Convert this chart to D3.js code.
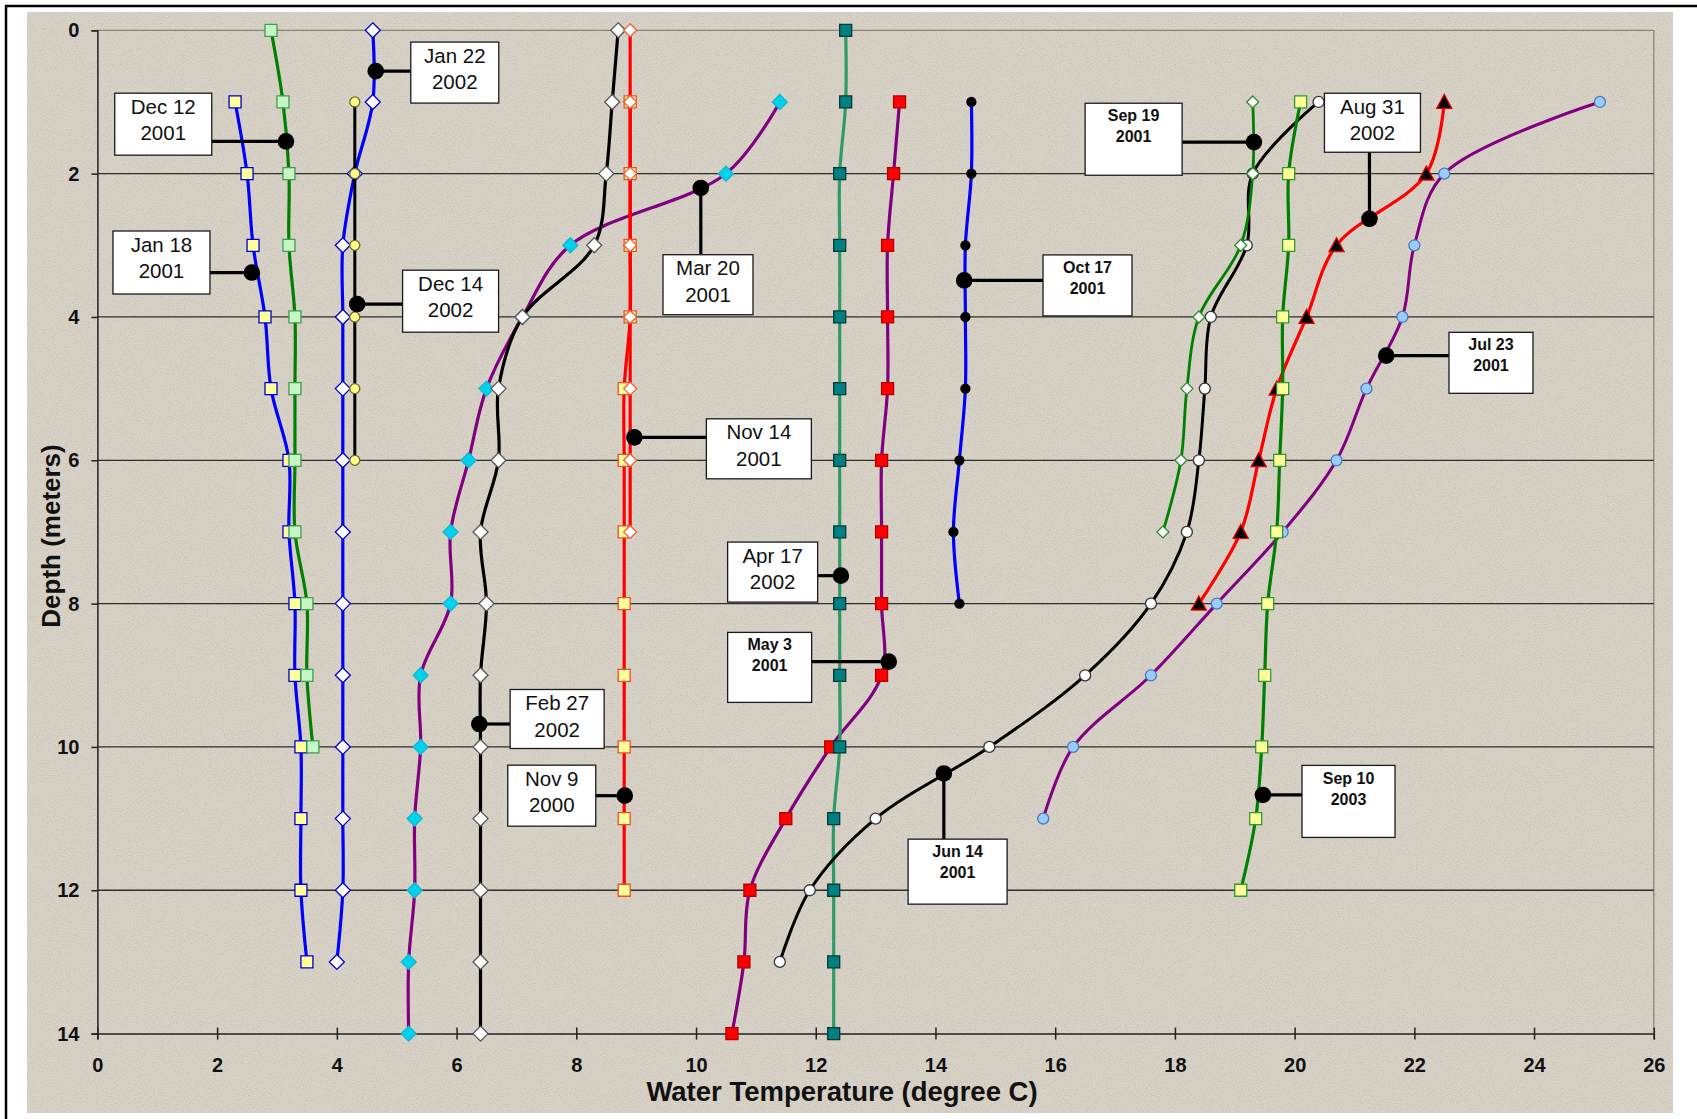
<!DOCTYPE html>
<html>
<head>
<meta charset="utf-8">
<script src="https://cdn.jsdelivr.net/npm/d3@7"></script>
<style>
  html, body { margin: 0; padding: 0; background: #ffffff; }
  svg { display: block; }
</style>
</head>
<body>
<svg id="chart" width="1697" height="1119"></svg>
<script>
// ---- Temperature profiles: depth (m) and water temperature (°C) ----
const depthsJan18_2001 = [1, 2, 3, 4, 5, 6, 7, 8, 9, 10, 11, 12, 13];
const tempsJan18_2001  = [2.3, 2.5, 2.6, 2.8, 2.9, 3.2, 3.2, 3.3, 3.3, 3.4, 3.4, 3.4, 3.5];

const depthsDec12_2001 = [0, 1, 2, 3, 4, 5, 6, 7, 8, 9, 10];
const tempsDec12_2001  = [2.9, 3.1, 3.2, 3.2, 3.3, 3.3, 3.3, 3.3, 3.5, 3.5, 3.6];

const depthsJan22_2002 = [0, 1, 2, 3, 4, 5, 6, 7, 8, 9, 10, 11, 12, 13];
const tempsJan22_2002  = [4.6, 4.6, 4.3, 4.1, 4.1, 4.1, 4.1, 4.1, 4.1, 4.1, 4.1, 4.1, 4.1, 4.0];

const depthsDec14_2002 = [1, 2, 3, 4, 5, 6];
const tempsDec14_2002  = [4.3, 4.3, 4.3, 4.3, 4.3, 4.3];

const depthsMar20_2001 = [1, 2, 3, 4, 5, 6, 7, 8, 9, 10, 11, 12, 13, 14];
const tempsMar20_2001  = [11.4, 10.5, 7.9, 7.1, 6.5, 6.2, 5.9, 5.9, 5.4, 5.4, 5.3, 5.3, 5.2, 5.2];

const depthsFeb27_2002 = [0, 1, 2, 3, 4, 5, 6, 7, 8, 9, 10, 11, 12, 13, 14];
const tempsFeb27_2002  = [8.7, 8.6, 8.5, 8.3, 7.1, 6.7, 6.7, 6.4, 6.5, 6.4, 6.4, 6.4, 6.4, 6.4, 6.4];

const depthsNov9_2000 = [1, 2, 3, 4, 5, 6, 7, 8, 9, 10, 11, 12];
const tempsNov9_2000  = [8.9, 8.9, 8.9, 8.9, 8.8, 8.8, 8.8, 8.8, 8.8, 8.8, 8.8, 8.8];

const depthsNov14_2001 = [0, 1, 2, 3, 4, 5, 6, 7];
const tempsNov14_2001  = [8.9, 8.9, 8.9, 8.9, 8.9, 8.9, 8.9, 8.9];

const depthsMay3_2001 = [1, 2, 3, 4, 5, 6, 7, 8, 9, 10, 11, 12, 13, 14];
const tempsMay3_2001  = [13.4, 13.3, 13.2, 13.2, 13.2, 13.1, 13.1, 13.1, 13.1, 12.25, 11.5, 10.9, 10.8, 10.6];

const depthsApr17_2002 = [0, 1, 2, 3, 4, 5, 6, 7, 8, 9, 10, 11, 12, 13, 14];
const tempsApr17_2002  = [12.5, 12.5, 12.4, 12.4, 12.4, 12.4, 12.4, 12.4, 12.4, 12.4, 12.4, 12.3, 12.3, 12.3, 12.3];

const depthsOct17_2001 = [1, 2, 3, 4, 5, 6, 7, 8];
const tempsOct17_2001  = [14.6, 14.6, 14.5, 14.5, 14.5, 14.4, 14.3, 14.4];

const depthsJun14_2001 = [1, 2, 3, 4, 5, 6, 7, 8, 9, 10, 11, 12, 13];
const tempsJun14_2001  = [20.4, 19.3, 19.2, 18.6, 18.5, 18.4, 18.2, 17.6, 16.5, 14.9, 13.0, 11.9, 11.4];

const depthsSep19_2001 = [1, 2, 3, 4, 5, 6, 7];
const tempsSep19_2001  = [19.3, 19.3, 19.1, 18.4, 18.2, 18.1, 17.8];

const depthsJul23_2001 = [1, 2, 3, 4, 5, 6, 7, 8, 9, 10, 11];
const tempsJul23_2001  = [25.1, 22.5, 22.0, 21.8, 21.2, 20.7, 19.8, 18.7, 17.6, 16.3, 15.8];

const depthsAug31_2002 = [1, 2, 3, 4, 5, 6, 7, 8];
const tempsAug31_2002  = [22.5, 22.2, 20.7, 20.2, 19.7, 19.4, 19.1, 18.4];

const depthsSep10_2003 = [1, 2, 3, 4, 5, 6, 7, 8, 9, 10, 11, 12];
const tempsSep10_2003  = [20.1, 19.9, 19.9, 19.8, 19.8, 19.75, 19.7, 19.55, 19.5, 19.45, 19.35, 19.1];

// ---- Sampling dates shown in the callouts, with the point each one marks ----
const calloutLines  = [
  ["Dec 12", "2001"], ["Jan 18", "2001"], ["Jan 22", "2002"], ["Dec 14", "2002"],
  ["Feb 27", "2002"], ["Mar 20", "2001"], ["Nov 14", "2001"], ["Nov 9", "2000"],
  ["Apr 17", "2002"], ["May 3", "2001"],  ["Oct 17", "2001"], ["Jun 14", "2001"],
  ["Sep 19", "2001"], ["Sep 10", "2003"], ["Aug 31", "2002"], ["Jul 23", "2001"]
];
const calloutTemps  = [3.15, 2.58, 4.65, 4.34, 6.38, 10.08, 8.97, 8.81, 12.42, 13.22, 14.48, 14.14, 19.32, 19.47, 21.25, 21.53];
const calloutDepths = [1.55, 3.38, 0.57, 3.82, 9.68, 2.2, 5.68, 10.68, 7.61, 8.81, 3.49, 10.37, 1.56, 10.67, 2.63, 4.54];

// Axis tick values
const depthTicks = [0, 2, 4, 6, 8, 10, 12, 14];
const tempTicks  = [0, 2, 4, 6, 8, 10, 12, 14, 16, 18, 20, 22, 24, 26];

// ---- Layout ----
const svg = d3.select("#chart");
const W = 1697, H = 1119;
const plot = { left: 97.4, right: 1653.8, top: 30.3, bottom: 1033.6 };

const x = d3.scaleLinear().domain([0, 26]).range([plot.left, plot.right]);
const y = d3.scaleLinear().domain([0, 14]).range([plot.top, plot.bottom]);

const FONT = "'Liberation Sans', Arial, Helvetica, sans-serif";

// Paper-like background with fine grain
const defs = svg.append("defs");
const grain = defs.append("filter").attr("id", "grain")
  .attr("x", 0).attr("y", 0).attr("width", "100%").attr("height", "100%");
grain.append("feTurbulence").attr("type", "fractalNoise")
  .attr("baseFrequency", 0.85).attr("numOctaves", 2).attr("seed", 7).attr("result", "n");
grain.append("feColorMatrix").attr("type", "matrix")
  .attr("values", "1 0 0 0 0  1 0 0 0 0  1 0 0 0 0  0 0 0 0 0.18");

svg.append("rect").attr("x", 0).attr("y", 0).attr("width", W).attr("height", H).attr("fill", "#ffffff");
svg.append("rect").attr("x", 27).attr("y", 12).attr("width", 1646).attr("height", 1101).attr("fill", "#DBD3C6");
svg.append("rect").attr("x", 27).attr("y", 12).attr("width", 1646).attr("height", 1101)
  .attr("filter", "url(#grain)");

// Outer frame
svg.append("line").attr("x1", 5).attr("x2", W).attr("y1", 6).attr("y2", 6)
  .attr("stroke", "#000").attr("stroke-width", 2.5);
svg.append("line").attr("x1", 6).attr("x2", 6).attr("y1", 5).attr("y2", H)
  .attr("stroke", "#000").attr("stroke-width", 2.5);

// Plot-area border (top and right)
svg.append("line").attr("x1", plot.left).attr("x2", plot.right).attr("y1", y(0)).attr("y2", y(0))
  .attr("stroke", "#8a8478").attr("stroke-width", 1.3);
svg.append("line").attr("x1", plot.right).attr("x2", plot.right).attr("y1", plot.top).attr("y2", plot.bottom)
  .attr("stroke", "#8a8478").attr("stroke-width", 1.3);

// Horizontal gridlines
svg.append("g").selectAll("line")
  .data(depthTicks.filter(d => d > 0 && d < 14))
  .join("line")
  .attr("x1", plot.left).attr("x2", plot.right)
  .attr("y1", d => y(d)).attr("y2", d => y(d))
  .attr("stroke", "#2e2e2e").attr("stroke-width", 1.3);

// Y axis (depth)
const yAxis = svg.append("g")
  .attr("transform", `translate(${plot.left},0)`)
  .call(d3.axisLeft(y).tickValues(depthTicks).tickSize(6).tickPadding(12).tickFormat(d3.format("d")));
yAxis.select(".domain").attr("stroke", "#222").attr("stroke-width", 1.5);
yAxis.selectAll(".tick line").attr("stroke", "#222").attr("stroke-width", 1.5);
yAxis.selectAll(".tick text")
  .attr("font-family", FONT).attr("font-size", 20).attr("font-weight", "bold").attr("fill", "#111");

// X axis (temperature) with crossing ticks
const xAxis = svg.append("g")
  .attr("transform", `translate(0,${plot.bottom})`)
  .call(d3.axisBottom(x).tickValues(tempTicks).tickSize(6).tickPadding(18).tickFormat(d3.format("d")));
xAxis.select(".domain").attr("stroke", "#222").attr("stroke-width", 1.5);
xAxis.selectAll(".tick line").attr("y1", -6).attr("y2", 6).attr("stroke", "#222").attr("stroke-width", 1.5);
xAxis.selectAll(".tick text")
  .attr("font-family", FONT).attr("font-size", 20).attr("font-weight", "bold").attr("fill", "#111");

// Axis titles
svg.append("text")
  .attr("x", 842).attr("y", 1101)
  .attr("text-anchor", "middle")
  .attr("font-family", FONT).attr("font-size", 27.5).attr("font-weight", "bold").attr("fill", "#111")
  .text("Water Temperature (degree C)");
svg.append("text")
  .attr("transform", "translate(60,536) rotate(-90)")
  .attr("text-anchor", "middle")
  .attr("font-family", FONT).attr("font-size", 26).attr("font-weight", "bold").attr("fill", "#111")
  .text("Depth (meters)");

// ---- Marker shapes ----
function markerPath(type, s) {
  const h = s / 2;
  switch (type) {
    case "square":   return `M${-h},${-h}H${h}V${h}H${-h}Z`;
    case "diamond":  return `M0,${-h}L${h},0L0,${h}L${-h},0Z`;
    case "triangle": return `M0,${-h}L${h},${h * 0.85}L${-h},${h * 0.85}Z`;
    default:         return d3.arc()({ innerRadius: 0, outerRadius: h, startAngle: 0, endAngle: 2 * Math.PI });
  }
}

// Series styling, in drawing order
const series = [
  { depths: depthsJan18_2001, temps: tempsJan18_2001, line: "#0000FF", lw: 3.2, marker: "square",  size: 12, fill: "#FFFF99", stroke: "#0000CC" },
  { depths: depthsDec12_2001, temps: tempsDec12_2001, line: "#008000", lw: 3.2, marker: "square",  size: 12, fill: "#C8F5C8", stroke: "#3AA04A" },
  { depths: depthsJan22_2002, temps: tempsJan22_2002, line: "#0000FF", lw: 3.2, marker: "diamond", size: 15, fill: "#FFFFFF", stroke: "#0000CC" },
  { depths: depthsDec14_2002, temps: tempsDec14_2002, line: "#000000", lw: 3.0, marker: "circle",  size: 10, fill: "#FFFF88", stroke: "#6b6b30" },
  { depths: depthsMar20_2001, temps: tempsMar20_2001, line: "#800080", lw: 3.2, marker: "diamond", size: 15, fill: "#00D2EE", stroke: "#12B8D0" },
  { depths: depthsFeb27_2002, temps: tempsFeb27_2002, line: "#000000", lw: 3.2, marker: "diamond", size: 15, fill: "#FFFFFF", stroke: "#555555" },
  { depths: depthsNov9_2000,  temps: tempsNov9_2000,  line: "#FF0000", lw: 3.2, marker: "square",  size: 12, fill: "#FFFF99", stroke: "#E8502A" },
  { depths: depthsNov14_2001, temps: tempsNov14_2001, line: "#FF0000", lw: 3.2, marker: "diamond", size: 13, fill: "#FFFFFF", stroke: "#F06030" },
  { depths: depthsMay3_2001,  temps: tempsMay3_2001,  line: "#800080", lw: 3.2, marker: "square",  size: 12, fill: "#FF0000", stroke: "#B00000" },
  { depths: depthsApr17_2002, temps: tempsApr17_2002, line: "#2E9A66", lw: 3.2, marker: "square",  size: 12, fill: "#008080", stroke: "#003838" },
  { depths: depthsOct17_2001, temps: tempsOct17_2001, line: "#0000FF", lw: 3.2, marker: "circle",  size: 9,  fill: "#000000", stroke: "#000000" },
  { depths: depthsJun14_2001, temps: tempsJun14_2001, line: "#000000", lw: 3.0, marker: "circle",  size: 11, fill: "#FFFFFF", stroke: "#333333" },
  { depths: depthsSep19_2001, temps: tempsSep19_2001, line: "#008000", lw: 2.8, marker: "diamond", size: 12, fill: "#FFFFFF", stroke: "#2E8B2E" },
  { depths: depthsJul23_2001, temps: tempsJul23_2001, line: "#800080", lw: 3.0, marker: "circle",  size: 11, fill: "#99CCFF", stroke: "#4F78B8" },
  { depths: depthsAug31_2002, temps: tempsAug31_2002, line: "#FF0000", lw: 3.2, marker: "triangle",size: 15, fill: "#000000", stroke: "#E00000" },
  { depths: depthsSep10_2003, temps: tempsSep10_2003, line: "#008000", lw: 3.2, marker: "square",  size: 12, fill: "#FFFF99", stroke: "#2E9A2E" }
];

const lineGen = d3.line()
  .x(p => x(p.t))
  .y(p => y(p.d))
  .curve(d3.curveCatmullRom.alpha(0.5));

const gSeries = svg.append("g");
series.forEach(s => {
  const pts = s.depths.map((d, i) => ({ d, t: s.temps[i] }));
  const g = gSeries.append("g");
  g.append("path")
    .attr("d", lineGen(pts))
    .attr("fill", "none")
    .attr("stroke", s.line)
    .attr("stroke-width", s.lw)
    .attr("stroke-linejoin", "round")
    .attr("stroke-linecap", "round");
  g.selectAll("path.mk")
    .data(pts)
    .join("path")
    .attr("class", "mk")
    .attr("transform", p => `translate(${x(p.t)},${y(p.d)})`)
    .attr("d", markerPath(s.marker, s.size))
    .attr("fill", s.fill)
    .attr("stroke", s.stroke)
    .attr("stroke-width", 1.3);
});

// ---- Callout boxes: centre (°C, m), size (px), leader direction, text style ----
const calloutBoxes = [
  { bt: 1.10,  bd: 1.31,  w: 97,  h: 62, dir: "h", style: "big" },
  { bt: 1.07,  bd: 3.24,  w: 97,  h: 63, dir: "h", style: "big" },
  { bt: 5.97,  bd: 0.59,  w: 88,  h: 61, dir: "h", style: "big" },
  { bt: 5.90,  bd: 3.78,  w: 96,  h: 62, dir: "h", style: "big" },
  { bt: 7.68,  bd: 9.61,  w: 94,  h: 59, dir: "h", style: "big" },
  { bt: 10.20, bd: 3.55,  w: 90,  h: 60, dir: "v", style: "big" },
  { bt: 11.05, bd: 5.84,  w: 105, h: 60, dir: "h", style: "big" },
  { bt: 7.59,  bd: 10.68, w: 88,  h: 61, dir: "h", style: "big" },
  { bt: 11.28, bd: 7.56,  w: 90,  h: 60, dir: "h", style: "big" },
  { bt: 11.23, bd: 8.89,  w: 84,  h: 70, dir: "h", style: "small" },
  { bt: 16.54, bd: 3.56,  w: 89,  h: 61, dir: "h", style: "small" },
  { bt: 14.37, bd: 11.74, w: 99,  h: 65, dir: "v", style: "small" },
  { bt: 17.31, bd: 1.52,  w: 97,  h: 72, dir: "h", style: "small" },
  { bt: 20.90, bd: 10.76, w: 93,  h: 72, dir: "h", style: "small" },
  { bt: 21.30, bd: 1.29,  w: 96,  h: 59, dir: "v", style: "big" },
  { bt: 23.28, bd: 4.64,  w: 84,  h: 61, dir: "h", style: "small" }
];

const gCallouts = svg.append("g");
calloutLines.forEach((lines, i) => {
  const b = calloutBoxes[i];
  const px = x(calloutTemps[i]), py = y(calloutDepths[i]);
  const cx = x(b.bt), cy = y(b.bd);
  const left = cx - b.w / 2, top = cy - b.h / 2;
  const g = gCallouts.append("g");

  // leader line from the box edge to the marked point
  let lx, ly;
  if (b.dir === "h") { lx = px < left ? left : left + b.w; ly = py; }
  else { lx = px; ly = py < top ? top : top + b.h; }
  g.append("line")
    .attr("x1", lx).attr("y1", ly).attr("x2", px).attr("y2", py)
    .attr("stroke", "#000").attr("stroke-width", 3.2);
  g.append("circle")
    .attr("cx", px).attr("cy", py).attr("r", 8.3).attr("fill", "#000");

  g.append("rect")
    .attr("x", left).attr("y", top).attr("width", b.w).attr("height", b.h)
    .attr("fill", "#ffffff").attr("stroke", "#1a1a1a").attr("stroke-width", 1.3);

  const big = b.style === "big";
  const offs = big ? [13.5, 40] : [12.5, 33.5];
  lines.forEach((txt, k) => {
    g.append("text")
      .attr("x", cx).attr("y", top + offs[k])
      .attr("dy", "0.35em")
      .attr("text-anchor", "middle")
      .attr("font-family", FONT)
      .attr("font-size", big ? 20.5 : 16)
      .attr("font-weight", big ? "normal" : "bold")
      .attr("fill", "#111")
      .text(txt);
  });
});
</script>
</body>
</html>
